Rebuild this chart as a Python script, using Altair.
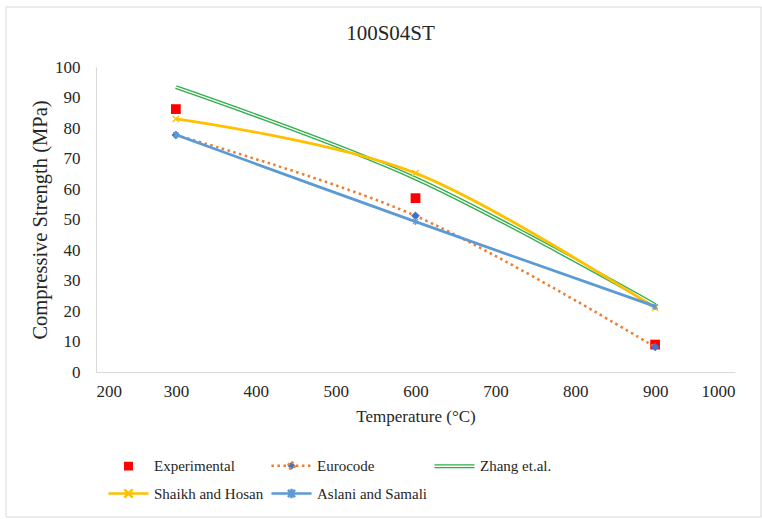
import altair as alt
import pandas as pd

# Compressive strength of 100S04ST at elevated temperature: test vs. models
series_names = ["Experimental", "Eurocode", "Zhang et.al.", "Shaikh and Hosan", "Aslani and Samali"]
temperatures = [300, 600, 900]
experimental = [86.2, 57.0, 9.0]
eurocode = [77.7, 51.2, 8.2]
zhang = [93.4, 63.5, 22.0]
shaikh_hosan = [83.0, 65.2, 21.0]
aslani_samali = [77.8, 49.3, 21.5]

x_ticks = list(range(200, 1001, 100))
y_ticks = list(range(0, 101, 10))

FONT = "Times New Roman, Liberation Serif, serif"
TEXT = "#262626"
RED = "#FF0000"
ORANGE = "#ED7D31"
DIAMOND_BLUE = "#4472C4"
GREEN = "#2EAE4A"
YELLOW = "#FFC000"
BLUE = "#5B9BD5"


def frame(values):
    return pd.DataFrame({"temp": temperatures, "strength": values})


axis_style = dict(
    labelFont=FONT, titleFont=FONT, labelFontSize=17,
    labelColor=TEXT, titleColor=TEXT, titleFontWeight="normal",
    domainColor="#D9D9D9", domainWidth=1, ticks=False, tickSize=0, grid=False,
    labelOverlap=False, format="d",
)

x_enc = alt.X(
    "temp:Q",
    scale=alt.Scale(domain=[200, 1000], nice=False, zero=False),
    axis=alt.Axis(values=x_ticks, title="Temperature (°C)", titleFontSize=17,
                  labelPadding=11, titlePadding=9, **axis_style),
)
y_enc = alt.Y(
    "strength:Q",
    scale=alt.Scale(domain=[0, 100], nice=False),
    axis=alt.Axis(values=y_ticks, title="Compressive Strength (MPa)", titleFontSize=20.5,
                  labelPadding=16, titlePadding=4, **axis_style),
)

# marker glyphs
X_PATH = "M-1,-1L1,1M-1,1L1,-1"
STAR_PATH = "M-0.8,-0.8L0.8,0.8M-0.8,0.8L0.8,-0.8M0,-1.1V1.1"

exp_pts = alt.Chart(frame(experimental)).mark_point(
    shape="square", filled=True, color=RED, size=95, opacity=1
).encode(x=x_enc, y=y_enc)

euro_line = alt.Chart(frame(eurocode)).mark_line(
    color=ORANGE, strokeWidth=2.6, strokeDash=[2.5, 3.5], interpolate="cardinal", tension=0
).encode(x=x_enc, y=y_enc)
euro_pts = alt.Chart(frame(eurocode)).mark_point(
    shape="diamond", filled=True, color=DIAMOND_BLUE, size=75, opacity=1
).encode(x=x_enc, y=y_enc)

zhang_outer = alt.Chart(frame(zhang)).mark_line(
    color=GREEN, strokeWidth=4, interpolate="cardinal", tension=0
).encode(x=x_enc, y=y_enc)
zhang_inner = alt.Chart(frame(zhang)).mark_line(
    color="white", strokeWidth=1.3, interpolate="cardinal", tension=0
).encode(x=x_enc, y=y_enc)

shaikh_line = alt.Chart(frame(shaikh_hosan)).mark_line(
    color=YELLOW, strokeWidth=2.8, interpolate="cardinal", tension=0
).encode(x=x_enc, y=y_enc)
shaikh_pts = alt.Chart(frame(shaikh_hosan)).mark_point(
    shape=X_PATH, filled=False, color=YELLOW, size=40, strokeWidth=1.3, opacity=1
).encode(x=x_enc, y=y_enc)

aslani_line = alt.Chart(frame(aslani_samali)).mark_line(
    color=BLUE, strokeWidth=2.8, interpolate="cardinal", tension=0
).encode(x=x_enc, y=y_enc)
aslani_pts = alt.Chart(frame(aslani_samali)).mark_point(
    shape=STAR_PATH, filled=False, color=BLUE, size=40, strokeWidth=1.3, opacity=1
).encode(x=x_enc, y=y_enc)

# legend glyphs: line sample with its marker; the sample runs a little past the
# unit box so it stays 40px long while the entry rows stay compact
legend_shapes = [
    "M-0.19,-0.19H0.19V0.19H-0.19Z",
    "M-1.18,0H-0.26M0.26,0H1.18M0,-0.24L0.24,0L0,0.24L-0.24,0Z",
    "M-1.18,-0.12H1.18V0.12H-1.18ZM-1.18,-0.04V0.04H1.18V-0.04Z",
    "M-1.18,0H1.18M-0.24,-0.24L0.24,0.24M-0.24,0.24L0.24,-0.24",
    "M-1.18,0H1.18M-0.21,-0.21L0.21,0.21M-0.21,0.21L0.21,-0.21M0,-0.28V0.28",
]
legend_fill = [RED, DIAMOND_BLUE, GREEN, "transparent", "transparent"]
legend_stroke = [RED, ORANGE, "transparent", YELLOW, BLUE]
legend_dash = [[1, 0], [2.5, 3.5], [1, 0], [1, 0], [1, 0]]

leg = alt.Legend(
    title=None, orient="none", legendX=11, legendY=380, direction="horizontal", columns=3,
    symbolSize=1156, symbolStrokeWidth=2.5, labelFont=FONT, labelFontSize=15,
    labelColor=TEXT, labelOffset=7, columnPadding=2, rowPadding=0,
    symbolOffset=3, labelLimit=300,
)

# legend rows carry no coordinates, so only their legend entries are drawn
legend_df = pd.DataFrame({"series": series_names})
legend_layer = alt.Chart(legend_df).mark_point(opacity=1, filled=False).encode(
    x=x_enc,
    y=y_enc,
    shape=alt.Shape("series:N", scale=alt.Scale(domain=series_names, range=legend_shapes), legend=leg),
    fill=alt.Fill("series:N", scale=alt.Scale(domain=series_names, range=legend_fill), legend=leg),
    stroke=alt.Stroke("series:N", scale=alt.Scale(domain=series_names, range=legend_stroke), legend=leg),
    strokeDash=alt.StrokeDash("series:N", scale=alt.Scale(domain=series_names, range=legend_dash), legend=leg),
)

# chart-area border
border = alt.Chart(pd.DataFrame({"k": [0]})).mark_rect(
    fill="transparent", stroke="#D9D9D9", strokeWidth=1
).encode(x=alt.value(-90), x2=alt.value(665), y=alt.value(-60), y2=alt.value(450))

chart = alt.layer(
    border,
    exp_pts,
    euro_line,
    euro_pts,
    zhang_outer,
    zhang_inner,
    shaikh_line,
    shaikh_pts,
    aslani_line,
    aslani_pts,
    legend_layer,
).properties(
    width=639,
    height=305,
    autosize=alt.AutoSizeParams(type="none"),
    padding={"left": 96, "top": 67, "right": 27, "bottom": 147},
    title=alt.TitleParams(
        "100S04ST", fontSize=21, font=FONT, fontWeight="normal", color=TEXT,
        anchor="middle", frame="group", dx=-25, offset=-54, baseline="alphabetic",
    ),
).configure_view(stroke=None)

chart.save("out.html", embed_options={"renderer": "svg", "actions": False})
